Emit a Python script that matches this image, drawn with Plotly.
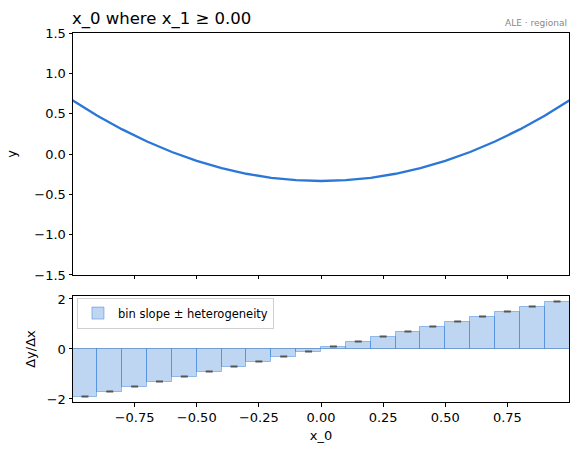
import plotly.graph_objects as go

# ALE curve (bin edges -> accumulated local effect)
x_edges = [-1.0, -0.9, -0.8, -0.7, -0.6, -0.5, -0.4, -0.3, -0.2, -0.1, 0.0,
           0.1, 0.2, 0.3, 0.4, 0.5, 0.6, 0.7, 0.8, 0.9, 1.0]
ale_vals = [0.665, 0.475, 0.305, 0.155, 0.025, -0.085, -0.175, -0.245, -0.295, -0.325, -0.335,
            -0.325, -0.295, -0.245, -0.175, -0.085, 0.025, 0.155, 0.305, 0.475, 0.665]

# bin slopes
bin_centers = [-0.95, -0.85, -0.75, -0.65, -0.55, -0.45, -0.35, -0.25, -0.15, -0.05,
               0.05, 0.15, 0.25, 0.35, 0.45, 0.55, 0.65, 0.75, 0.85, 0.95]
bin_slopes = [-1.9, -1.7, -1.5, -1.3, -1.1, -0.9, -0.7, -0.5, -0.3, -0.1,
              0.1, 0.3, 0.5, 0.7, 0.9, 1.1, 1.3, 1.5, 1.7, 1.9]
heterogeneity = [0.01] * 20

x_ticks = [-0.75, -0.5, -0.25, 0.0, 0.25, 0.5, 0.75]
x_tick_text = ["−0.75", "−0.50", "−0.25", "0.00", "0.25", "0.50", "0.75"]

LINE = "#2a77d6"
FONT = "DejaVu Sans"

fig = go.Figure()
fig.add_trace(go.Scatter(x=x_edges, y=ale_vals, mode="lines",
                         line=dict(color=LINE, width=2.3), showlegend=False,
                         xaxis="x", yaxis="y"))
fig.add_trace(go.Bar(x=bin_centers, y=bin_slopes, width=0.1,
                     marker=dict(color="rgba(42,119,214,0.3)",
                                 line=dict(color="rgba(42,119,214,0.45)", width=1)),
                     error_y=dict(type="data", array=heterogeneity, color="#555555",
                                  thickness=1.6, width=3.5),
                     name="bin slope ± heterogeneity", showlegend=True,
                     xaxis="x2", yaxis="y2"))

axis_common = dict(showline=True, mirror=True, linecolor="black", linewidth=1,
                   ticks="outside", ticklen=3.5, tickcolor="black", showgrid=False,
                   tickfont=dict(family=FONT, size=13, color="black"))

fig.update_layout(
    width=578, height=455,
    margin=dict(l=73, r=9, t=33, b=53),
    paper_bgcolor="white", plot_bgcolor="white",
    font=dict(family=FONT, size=13, color="black"),
    xaxis=dict(domain=[0, 1], range=[-0.998, 0.998], anchor="y", matches="x2",
               tickvals=x_ticks, showticklabels=False, zeroline=False, **axis_common),
    yaxis=dict(domain=[0.3442, 1], range=[-1.5, 1.5], anchor="x",
               tickvals=[-1.5, -1.0, -0.5, 0.0, 0.5, 1.0, 1.5], tickformat=".1f",
               zeroline=False,
               title=dict(text="y", font=dict(family=FONT, size=13), standoff=14),
               **axis_common),
    xaxis2=dict(domain=[0, 1], range=[-0.998, 0.998], anchor="y2",
                tickvals=x_ticks, ticktext=x_tick_text, zeroline=False,
                title=dict(text="x_0", font=dict(family=FONT, size=13), standoff=6),
                **axis_common),
    yaxis2=dict(domain=[0, 0.2873], range=[-2.12, 2.12], anchor="x2",
                tickvals=[-2, 0, 2], ticktext=["−2", "0", "2"],
                zeroline=True, zerolinecolor="#c8c8c8", zerolinewidth=1.2,
                title=dict(text="Δy/Δx", font=dict(family=FONT, size=13), standoff=8),
                **axis_common),
    legend=dict(x=0.008, y=0.283, xanchor="left", yanchor="top",
                bgcolor="rgba(255,255,255,0.8)", bordercolor="#d0d0d0", borderwidth=1,
                font=dict(family=FONT, size=11.5), itemwidth=30),
    bargap=0,
    annotations=[
        dict(text="x_0 where x_1 ≥ 0.00", xref="paper", yref="paper", x=0, y=1.0,
             xanchor="left", yanchor="bottom", yshift=2, xshift=-3, showarrow=False,
             font=dict(family=FONT, size=16.5, color="black")),
        dict(text="ALE · regional", xref="paper", yref="paper", x=1, y=1.0,
             xanchor="right", yanchor="bottom", yshift=3, showarrow=False,
             font=dict(family=FONT, size=9, color="#888888")),
    ],
)

fig.write_html("out.html")
